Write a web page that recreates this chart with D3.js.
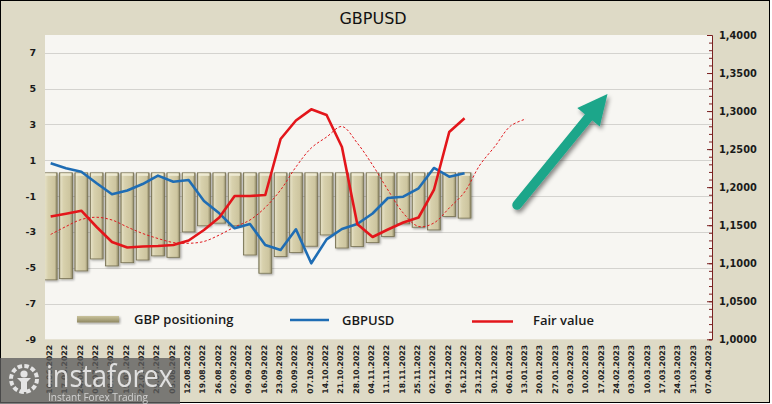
<!DOCTYPE html>
<html>
<head>
<meta charset="utf-8">
<script src="https://cdn.jsdelivr.net/npm/d3@7"></script>
<style>
  html, body { margin: 0; padding: 0; background: #ffffff; }
  svg { display: block; }
</style>
</head>
<body>
<svg id="chart" width="772" height="404"></svg>
<script>
// ---------------- DATA ----------------
const dates = [
  "10.06.2022","17.06.2022","24.06.2022","01.07.2022","08.07.2022","15.07.2022","22.07.2022","29.07.2022",
  "05.08.2022","12.08.2022","19.08.2022","26.08.2022","02.09.2022","09.09.2022","16.09.2022","23.09.2022",
  "30.09.2022","07.10.2022","14.10.2022","21.10.2022","28.10.2022","04.11.2022","11.11.2022","18.11.2022",
  "25.11.2022","02.12.2022","09.12.2022","16.12.2022","23.12.2022","30.12.2022","06.01.2023","13.01.2023",
  "20.01.2023","27.01.2023","03.02.2023","10.02.2023","17.02.2023","24.02.2023","03.03.2023","10.03.2023",
  "17.03.2023","24.03.2023","31.03.2023","07.04.2023"
];
// GBP positioning (left axis)
const positioning = [
  -5.68,-5.61,-5.18,-4.51,-4.90,-4.72,-4.57,-4.34,-4.42,-3.00,-2.66,-2.51,-2.66,-4.29,
  -5.31,-4.38,-4.15,-3.80,-3.17,-3.90,-3.82,-3.60,-3.26,-2.55,-2.74,-2.89,-2.14,-2.23
];
// GBPUSD (right axis)
const gbpusd = [
  1.2313,1.2248,1.2203,1.2051,1.1906,1.1956,1.2041,1.2151,1.2072,1.2094,1.1818,1.1656,1.1459,1.1516,
  1.1240,1.1174,1.1446,1.0999,1.1314,1.1450,1.1516,1.1654,1.1857,1.1874,1.1985,1.2252,1.2137,1.2182
];
// Fair value (right axis)
const fairValue = [
  1.1614,1.1650,1.1690,1.1476,1.1279,1.1207,1.1220,1.1226,1.1240,1.1299,1.1437,1.1601,1.1884,1.1884,
  1.1897,1.2633,1.2876,1.3023,1.2948,1.2528,1.1516,1.1345,1.1443,1.1535,1.1601,1.1963,1.2725,1.2905
];
// Fair value, smoothed / shifted (dashed, right axis)
const fairValueAvg = [
  1.1378,1.1483,1.1575,1.1604,1.1568,1.1476,1.1391,1.1325,1.1272,1.1262,1.1286,1.1371,1.1476,1.1568,
  1.1733,1.1963,1.2265,1.2515,1.2659,1.2797,1.2580,1.2291,1.1963,1.1660,1.1483,1.1529,1.1726,1.1936,
  1.2291,1.2541,1.2804,1.2896
];
const leftTicks = [7, 5, 3, 1, -1, -3, -5, -7, -9];
const rightTicks = [1.0, 1.05, 1.1, 1.15, 1.2, 1.25, 1.3, 1.35, 1.4];
const legendLabels = ["GBP positioning", "GBPUSD", "Fair value"];
const titleText = "GBPUSD";

// ---------------- LAYOUT ----------------
const W = 772, H = 404;
const plot = { left: 45, right: 712, top: 35, bottom: 339.3 };
const leftDomain = [-9, 8];
const rightDomain = [1.0, 1.4];
const barBase = 0.3;

const svg = d3.select("#chart");
const defs = svg.append("defs");

// gradients / filters
const g1 = defs.append("linearGradient").attr("id", "barGrad").attr("x1", 0).attr("x2", 1).attr("y1", 0).attr("y2", 0);
[[0, "#98916e"], [0.1, "#e3dec2"], [0.3, "#d8d1ad"], [0.8, "#cdc59f"], [1, "#8e8765"]]
  .forEach(([o, c]) => g1.append("stop").attr("offset", o).attr("stop-color", c));
const g2 = defs.append("linearGradient").attr("id", "legGrad").attr("x1", 0).attr("x2", 0).attr("y1", 0).attr("y2", 1);
[[0, "#c9c29c"], [0.5, "#aea77f"], [1, "#8f8863"]]
  .forEach(([o, c]) => g2.append("stop").attr("offset", o).attr("stop-color", c));
const sh = defs.append("filter").attr("id", "shadow").attr("x", "-20%").attr("y", "-20%").attr("width", "150%").attr("height", "150%");
sh.append("feDropShadow").attr("dx", 1.2).attr("dy", 1.2).attr("stdDeviation", 0.9).attr("flood-color", "#000").attr("flood-opacity", 0.35);
const sh2 = defs.append("filter").attr("id", "arrowShadow").attr("x", "-30%").attr("y", "-30%").attr("width", "160%").attr("height", "160%");
sh2.append("feDropShadow").attr("dx", 2).attr("dy", 3).attr("stdDeviation", 2).attr("flood-color", "#000").attr("flood-opacity", 0.45);
defs.append("clipPath").attr("id", "plotClip").append("rect")
  .attr("x", plot.left).attr("y", plot.top).attr("width", plot.right - plot.left).attr("height", plot.bottom - plot.top);

// background & frame
svg.append("rect").attr("x", 0.5).attr("y", 0.5).attr("width", 769).attr("height", 402)
  .attr("fill", "#dedac6").attr("stroke", "#000").attr("stroke-width", 1);
svg.append("rect").attr("x", plot.left).attr("y", plot.top)
  .attr("width", plot.right - plot.left).attr("height", plot.bottom - plot.top).attr("fill", "#f7f6f2");

// scales
const x = d3.scaleBand().domain(dates).range([43, 717.5]).padding(0);
const cx = d => x(d) + x.bandwidth() / 2;
const barW = x.bandwidth() * 0.84;
const yL = d3.scaleLinear().domain(leftDomain).range([plot.bottom, plot.top]);
const yR = d3.scaleLinear().domain(rightDomain).range([plot.bottom, plot.top]);

// gridlines
svg.append("g").selectAll("line").data(leftTicks.filter(v => v > leftDomain[0])).join("line")
  .attr("x1", plot.left).attr("x2", plot.right)
  .attr("y1", d => Math.round(yL(d)) + 0.5).attr("y2", d => Math.round(yL(d)) + 0.5)
  .attr("stroke", "#d4d3cf").attr("stroke-width", 1);

// title
svg.append("text").attr("x", 373).attr("y", 24).attr("text-anchor", "middle")
  .attr("font-family", "DejaVu Sans, Verdana, sans-serif").attr("font-size", 16).attr("fill", "#111")
  .text(titleText);

// left axis labels
svg.append("g").selectAll("text").data(leftTicks).join("text")
  .attr("x", 36).attr("y", d => yL(d)).attr("dy", "0.36em").attr("text-anchor", "end")
  .attr("font-family", "DejaVu Sans, Verdana, sans-serif").attr("font-weight", "bold")
  .attr("font-size", 9.5).attr("fill", "#1a1a1a").text(d => d);

// right axis
const rAxis = d3.axisLeft(yR).tickValues(d3.range(1.0, 1.4001, 0.01)).tickSize(3).tickFormat("");
const rg = svg.append("g").attr("transform", `translate(${plot.right},0)`).call(rAxis);
rg.select(".domain").attr("stroke", "#7a2020");
rg.selectAll(".tick line").attr("stroke", "#7a2020");
svg.append("g").attr("transform", `translate(${plot.right},0)`)
  .call(d3.axisLeft(yR).tickValues(rightTicks).tickSize(5).tickFormat(""))
  .call(g => { g.select(".domain").remove(); g.selectAll(".tick line").attr("stroke", "#7a2020"); });
svg.append("g").selectAll("text").data(rightTicks).join("text")
  .attr("x", 719).attr("y", d => yR(d)).attr("dy", "0.36em")
  .attr("font-family", "DejaVu Sans, Verdana, sans-serif").attr("font-weight", "bold")
  .attr("font-size", 9.8).attr("fill", "#1a1a1a")
  .text(d => d3.format(".4f")(d).replace(".", ","));

// x labels
svg.append("g").selectAll("text").data(dates).join("text")
  .attr("transform", d => `translate(${cx(d) - 1.5},345) rotate(-90)`)
  .attr("dy", "0.36em").attr("text-anchor", "end")
  .attr("font-family", "DejaVu Sans, Verdana, sans-serif").attr("font-weight", "bold")
  .attr("font-size", 7.7).attr("fill", "#222").text(d => d);

// plot content
const pg = svg.append("g").attr("clip-path", "url(#plotClip)");

// bars
pg.append("g").attr("filter", "url(#shadow)").selectAll("rect").data(positioning).join("rect")
  .attr("x", (d, i) => cx(dates[i]) - barW / 2)
  .attr("y", yL(barBase))
  .attr("width", barW)
  .attr("height", d => yL(d) - yL(barBase))
  .attr("fill", "url(#barGrad)").attr("stroke", "#767052").attr("stroke-width", 0.8);
pg.append("g").selectAll("rect").data(positioning).join("rect")
  .attr("x", (d, i) => cx(dates[i]) - barW / 2 + 1)
  .attr("y", yL(barBase) + 0.5)
  .attr("width", barW - 2).attr("height", 2.5)
  .attr("fill", "#f1edd8").attr("opacity", 0.9);

// lines
const line = d3.line().x((d, i) => cx(dates[i])).y(d => yR(d));
pg.append("path").datum(fairValueAvg)
  .attr("d", line.curve(d3.curveCatmullRom.alpha(0.5)))
  .attr("fill", "none").attr("stroke", "#e0191e").attr("stroke-width", 1).attr("stroke-dasharray", "2.5,2");
line.curve(d3.curveLinear);
pg.append("path").datum(gbpusd).attr("d", line)
  .attr("fill", "none").attr("stroke", "#1f6db4").attr("stroke-width", 2.6).attr("stroke-linejoin", "round");
pg.append("path").datum(fairValue).attr("d", line)
  .attr("fill", "none").attr("stroke", "#e3161b").attr("stroke-width", 2.6).attr("stroke-linejoin", "round");

// legend
const lf = "Open Sans, Liberation Sans, sans-serif";
svg.append("rect").attr("x", 77).attr("y", 316).attr("width", 42).attr("height", 6.5)
  .attr("fill", "url(#legGrad)").attr("filter", "url(#shadow)");
svg.append("text").attr("x", 134).attr("y", 324).text(legendLabels[0])
  .attr("font-family", lf).attr("font-weight", 600).attr("font-size", 13).attr("fill", "#1a1a1a");
svg.append("line").attr("x1", 290).attr("x2", 329).attr("y1", 320).attr("y2", 320)
  .attr("stroke", "#1f6db4").attr("stroke-width", 2.6);
svg.append("text").attr("x", 342).attr("y", 325).text(legendLabels[1])
  .attr("font-family", lf).attr("font-weight", 600).attr("font-size", 13).attr("fill", "#1a1a1a");
svg.append("line").attr("x1", 472).attr("x2", 513).attr("y1", 321.5).attr("y2", 321.5)
  .attr("stroke", "#e3161b").attr("stroke-width", 2.6);
svg.append("text").attr("x", 533).attr("y", 325).text(legendLabels[2])
  .attr("font-family", lf).attr("font-weight", 600).attr("font-size", 13).attr("fill", "#1a1a1a");

// arrow annotation
(function () {
  const s = [517, 205], t = [607.5, 94];
  const dx = t[0] - s[0], dy = t[1] - s[1], L = Math.hypot(dx, dy);
  const u = [dx / L, dy / L], n = [-u[1], u[0]];
  const headL = 30, headW = 14.5, shaftW = 9.5;
  const b = [t[0] - u[0] * headL, t[1] - u[1] * headL];
  const ag = svg.append("g").attr("filter", "url(#arrowShadow)");
  ag.append("line").attr("x1", s[0]).attr("y1", s[1]).attr("x2", b[0] + u[0] * 4).attr("y2", b[1] + u[1] * 4)
    .attr("stroke", "#1ba68a").attr("stroke-width", shaftW).attr("stroke-linecap", "round");
  ag.append("path").attr("d", d3.line()([
    t, [b[0] + n[0] * headW, b[1] + n[1] * headW], [b[0] - n[0] * headW, b[1] - n[1] * headW]
  ]) + "Z").attr("fill", "#1ba68a");
})();

// watermark
const wm = svg.append("g");
wm.append("rect").attr("x", 0).attr("y", 358).attr("width", 180).attr("height", 46)
  .attr("fill", "#5e5e5e").attr("opacity", 0.78);
const ic = wm.append("g").attr("transform", "translate(24,379)").attr("fill", "#e4e4e4").attr("stroke", "none");
ic.append("circle").attr("r", 13).attr("fill", "none").attr("stroke", "#e4e4e4").attr("stroke-width", 4).attr("stroke-dasharray", "4.5,2.3");
ic.append("circle").attr("cy", -5).attr("r", 3.6);
ic.append("path").attr("d", "M-7,-1 L7,-1 L3,3 L3,13 L-3,13 L-3,3 Z");
wm.append("text").attr("x", 46).attr("y", 387).text("instaforex")
  .attr("font-family", "Open Sans, sans-serif").attr("font-size", 31).attr("font-weight", 400)
  .attr("textLength", 127).attr("lengthAdjust", "spacingAndGlyphs").attr("fill", "#ececec").attr("opacity", 0.9);
wm.append("text").attr("x", 48).attr("y", 401).text("Instant Forex Trading")
  .attr("font-family", "Open Sans, sans-serif").attr("font-size", 10.5)
  .attr("textLength", 100).attr("lengthAdjust", "spacingAndGlyphs").attr("fill", "#e0e0e0").attr("opacity", 0.85);
</script>
</body>
</html>
